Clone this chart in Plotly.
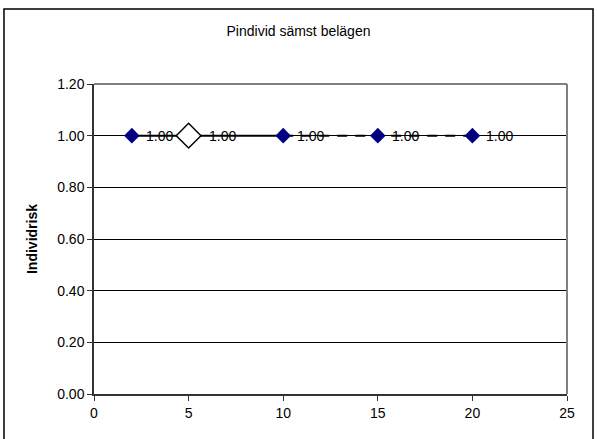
import plotly.graph_objects as go

x_solid = [2, 5, 10]
y_solid = [1.0, 1.0, 1.0]
x_dash = [10, 15, 20]
y_dash = [1.0, 1.0, 1.0]
marker_x = [2, 10, 15, 20]
marker_y = [1.0, 1.0, 1.0, 1.0]
open_x = [5]
open_y = [1.0]
label_x = [2, 5, 10, 15, 20]
label_y = [1.0, 1.0, 1.0, 1.0, 1.0]
label_text = ["1.00", "1.00", "1.00", "1.00", "1.00"]
y_ticks = [0, 0.2, 0.4, 0.6, 0.8, 1.0, 1.2]
x_ticks = [0, 5, 10, 15, 20, 25]

FONT = "Liberation Sans, Arial, sans-serif"
FS = 14

fig = go.Figure()
fig.add_trace(go.Scatter(x=x_solid, y=y_solid, mode="lines",
                         line=dict(color="black", width=2), showlegend=False))
fig.add_trace(go.Scatter(x=x_dash, y=y_dash, mode="lines",
                         line=dict(color="black", width=2, dash="10px,8px"), showlegend=False))
fig.add_trace(go.Scatter(x=marker_x, y=marker_y, mode="markers",
                         marker=dict(symbol="diamond", size=12, color="#000080",
                                     line=dict(width=0)), showlegend=False))
fig.add_trace(go.Scatter(x=open_x, y=open_y, mode="markers",
                         marker=dict(symbol="diamond", size=19, color="white",
                                     line=dict(width=1.5, color="black")), showlegend=False))

for lx, ly, lt in zip(label_x, label_y, label_text):
    fig.add_annotation(x=lx, y=ly, text=lt, showarrow=False, xanchor="left",
                       xshift=18 if lx in open_x else 12, yshift=0,
                       font=dict(family=FONT, size=FS, color="black"))

fig.add_shape(type="rect", xref="paper", yref="paper",
              x0=-0.1903, x1=1.055, y0=-0.2, y1=1.2419,
              line=dict(color="black", width=1.5), layer="below")

fig.update_layout(
    width=597, height=439,
    margin=dict(l=94, r=30, t=84, b=45),
    paper_bgcolor="white", plot_bgcolor="white",
    title=dict(text="Pindivid sämst belägen", x=0.5, xanchor="center",
               y=1 - 31 / 439, yanchor="middle",
               font=dict(family=FONT, size=FS, color="black")),
    font=dict(family=FONT, size=FS, color="black"),
    xaxis=dict(range=[0, 25], tickvals=x_ticks, ticktext=[str(v) for v in x_ticks],
               showgrid=False, zeroline=False, showline=True, linecolor="#333",
               linewidth=1.5, ticks="outside", ticklen=5, tickcolor="#333",
               mirror=False, tickfont=dict(family=FONT, size=FS, color="black")),
    yaxis=dict(range=[0, 1.2], tickvals=y_ticks,
               ticktext=[f"{v:.2f}" for v in y_ticks],
               showgrid=True, gridcolor="black", gridwidth=1, zeroline=False,
               showline=True, linecolor="#333", linewidth=1.5, ticks="outside",
               ticklen=5, tickcolor="#333",
               tickfont=dict(family=FONT, size=FS, color="black"),
               title=dict(text="<b>Individrisk</b>", standoff=16,
                          font=dict(family=FONT, size=FS, color="black"))),
)
fig.add_shape(type="line", xref="paper", yref="paper", x0=0, x1=1, y0=1, y1=1,
              line=dict(color="#808080", width=2))
fig.add_shape(type="line", xref="paper", yref="paper", x0=1, x1=1, y0=0, y1=1,
              line=dict(color="#808080", width=2))

fig.write_html("out.html", config={"displayModeBar": False},
               post_script="document.body.style.margin='0';")
